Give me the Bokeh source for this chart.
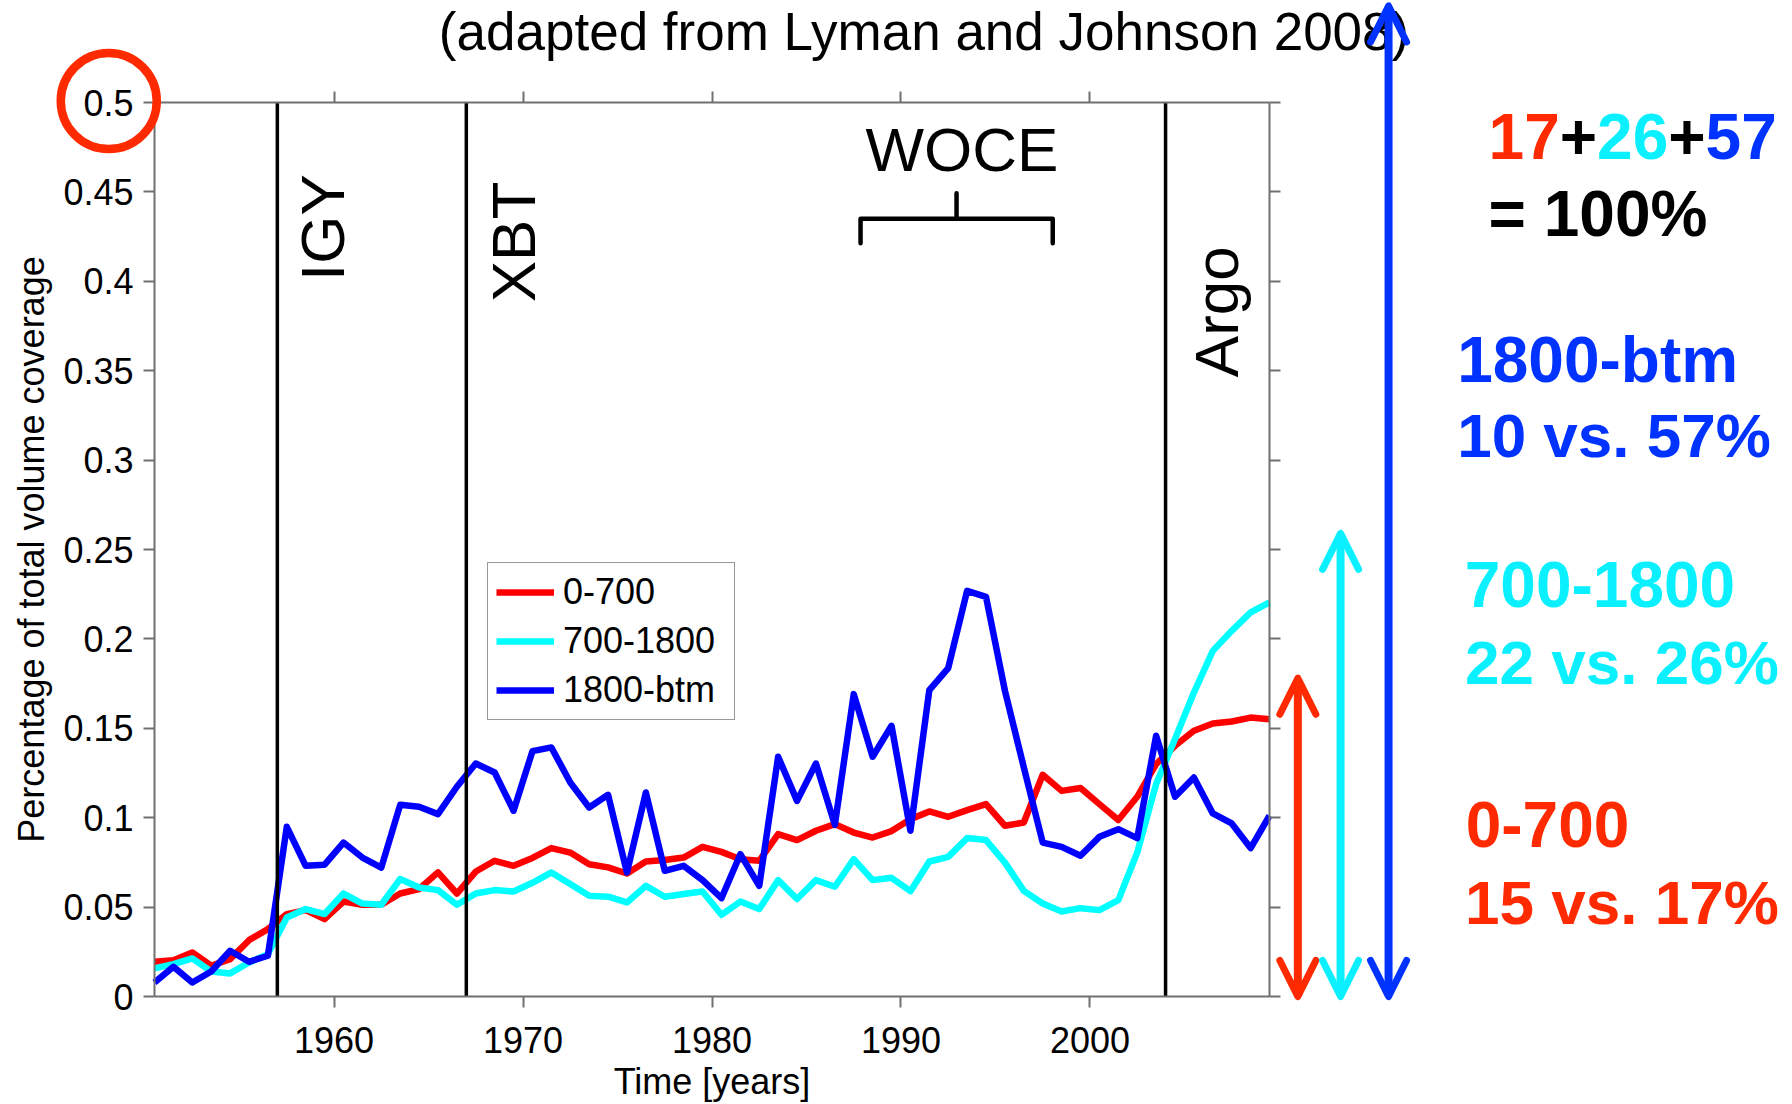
import math
from bokeh.plotting import figure
from bokeh.models import (Range1d, LinearAxis, FixedTicker, Legend, LegendItem, Label,
                          Arrow, OpenHead, BoxAnnotation)
from bokeh.embed import file_html
from bokeh.resources import INLINE

# ---------------- data ----------------
YEARS = [1950.5 + k for k in range(60)]

COVER_0_700 = [0.0194, 0.0203, 0.0246, 0.0172, 0.0209, 0.0315, 0.0377, 0.0461, 0.0483, 0.0433,
               0.0531, 0.0513, 0.0513, 0.0576, 0.0601, 0.0694, 0.0576, 0.0699, 0.0759, 0.0731,
               0.0775, 0.0830, 0.0805, 0.0740, 0.0722, 0.0688, 0.0755, 0.0763, 0.0777, 0.0837,
               0.0809, 0.0768, 0.0759, 0.0908, 0.0875, 0.0927, 0.0964, 0.0917, 0.0889, 0.0925,
               0.0992, 0.1035, 0.1005, 0.1042, 0.1076, 0.0955, 0.0973, 0.1240, 0.1150, 0.1166,
               0.1076, 0.0987, 0.1117, 0.1300, 0.1402, 0.1486, 0.1527, 0.1538, 0.1560, 0.1551]

COVER_700_1800 = [0.0157, 0.0181, 0.0213, 0.0140, 0.0129, 0.0190, 0.0237, 0.0442, 0.0489, 0.0461,
                  0.0576, 0.0520, 0.0513, 0.0657, 0.0610, 0.0595, 0.0513, 0.0576, 0.0595, 0.0587,
                  0.0636, 0.0694, 0.0629, 0.0563, 0.0558, 0.0526, 0.0619, 0.0558, 0.0573, 0.0587,
                  0.0457, 0.0531, 0.0489, 0.0651, 0.0545, 0.0651, 0.0614, 0.0768, 0.0651, 0.0664,
                  0.0589, 0.0755, 0.0781, 0.0886, 0.0875, 0.0749, 0.0591, 0.0520, 0.0475, 0.0494,
                  0.0483, 0.0539, 0.0805, 0.1188, 0.1440, 0.1700, 0.1933, 0.2045, 0.2148, 0.2204]

COVER_1800_BTM = [0.0078, 0.0166, 0.0078, 0.0140, 0.0256, 0.0194, 0.0228, 0.0949, 0.0731, 0.0737,
                  0.0861, 0.0777, 0.0721, 0.1072, 0.1061, 0.1020, 0.1173, 0.1303, 0.1253, 0.1039,
                  0.1372, 0.1393, 0.1197, 0.1057, 0.1128, 0.0694, 0.1141, 0.0703, 0.0731, 0.0651,
                  0.0550, 0.0796, 0.0619, 0.1341, 0.1094, 0.1303, 0.0960, 0.1691, 0.1341, 0.1514,
                  0.0927, 0.1714, 0.1837, 0.2269, 0.2235, 0.1710, 0.1281, 0.0861, 0.0837, 0.0787,
                  0.0893, 0.0936, 0.0886, 0.1458, 0.1117, 0.1225, 0.1024, 0.0968, 0.0830, 0.1011]

SERIES_NAMES = ["0-700", "700-1800", "1800-btm"]
SERIES_COLORS = ["#ff0000", "#00ffff", "#0000ff"]

X_LIMITS = (1950.5, 2009.5)
Y_LIMITS = (0.0, 0.5)
X_TICKS = [1960, 1970, 1980, 1990, 2000]
Y_TICKS = [0, 0.05, 0.1, 0.15, 0.2, 0.25, 0.3, 0.35, 0.4, 0.45, 0.5]
Y_TICK_LABELS = ["0", "0.05", "0.1", "0.15", "0.2", "0.25", "0.3", "0.35", "0.4", "0.45", "0.5"]

EVENT_YEARS = [1957, 1967, 2004]
EVENT_NAMES = ["IGY", "XBT", "Argo"]
EVENT_LABEL_X = [1959.41, 1969.50, 2006.70]
EVENT_LABEL_Y = [0.430, 0.422, 0.383]

WOCE_NAME = "WOCE"
WOCE_LABEL_X, WOCE_LABEL_Y = 1993.23, 0.4737
BRACE_X = [1987.86, 1987.86, 1992.94, 1992.94, 1992.94, 1998.03, 1998.03]
BRACE_Y = [0.4213, 0.4350, 0.4350, 0.4493, 0.4350, 0.4350, 0.4213]

# vertical share arrows (0 -> top) and right-hand annotations
ANNOT_COLORS = ["#ff2a00", "#0af0ff", "#0033ff"]
ARROW_X = [2011.00, 2013.26, 2015.80]
ARROW_TOP = [0.178, 0.259, 0.554]
LAYER_TITLES = ["0-700", "700-1800", "1800-btm"]
LAYER_COMPARE = ["15 vs. 17%", "22 vs. 26%", "10 vs. 57%"]
LAYER_TITLE_XY = [(2019.88, 0.0960), (2019.83, 0.2304), (2019.43, 0.3559)]
LAYER_COMPARE_XY = [(2019.85, 0.0524), (2019.85, 0.1868), (2019.43, 0.3138)]
SUM_PARTS = ["17", "+", "26", "+", "57"]
SUM_COLORS = ["#ff2a00", "#000000", "#0af0ff", "#000000", "#0033ff"]
SUM_XY = (2021.09, 0.4810)
TOTAL_TEXT = "= 100%"
TOTAL_XY = (2021.09, 0.4379)

TITLE_TEXT = "(adapted from Lyman and Johnson 2008)"
TITLE_XY = (1991.22, 0.5395)

CIRCLE_CENTER = (1948.08, 0.5008)
CIRCLE_R = (2.54, 0.02685)

FONT = "Liberation Sans"

# ---------------- layout: canvas and where the axes box sits on it ----------------
W, H = 1792, 1104
BOX_L, BOX_T, BOX_R, BOX_B = 154, 102, 1269, 996   # pixel edges of the axes box
ppx = (BOX_R - BOX_L) / (X_LIMITS[1] - X_LIMITS[0])
ppy = (BOX_B - BOX_T) / (Y_LIMITS[1] - Y_LIMITS[0])
x_range = Range1d(X_LIMITS[0] - BOX_L / ppx, X_LIMITS[1] + (W - BOX_R) / ppx)
y_range = Range1d(Y_LIMITS[0] - (H - BOX_B) / ppy, Y_LIMITS[1] + BOX_T / ppy)

p = figure(width=W, height=H, min_border=0,
           min_border_left=0, min_border_right=0, min_border_top=0, min_border_bottom=0,
           x_range=x_range, y_range=y_range,
           output_backend="svg", toolbar_location=None, title=None)
p.grid.visible = False
p.outline_line_color = None
p.background_fill_color = "white"
p.border_fill_color = "white"

AX_COLOR = "#707070"


def style_axis(ax):
    ax.axis_line_color = AX_COLOR
    ax.axis_line_width = 2
    ax.major_tick_line_color = AX_COLOR
    ax.major_tick_line_width = 2
    ax.major_tick_in = 0
    ax.major_tick_out = 11
    ax.minor_tick_line_color = None
    ax.major_label_text_font = FONT
    ax.major_label_text_color = "black"
    ax.major_label_text_font_size = "36px"
    ax.axis_label_text_font = FONT
    ax.axis_label_text_font_style = "normal"
    ax.axis_label_text_color = "black"
    ax.axis_label_text_font_size = "36px"


xb = p.xaxis[0]
yl = p.yaxis[0]
style_axis(xb)
style_axis(yl)
xb.fixed_location = Y_LIMITS[0]
yl.fixed_location = X_LIMITS[0]
xb.bounds = X_LIMITS
yl.bounds = Y_LIMITS
xb.ticker = FixedTicker(ticks=X_TICKS)
yl.ticker = FixedTicker(ticks=Y_TICKS)
yl.major_label_overrides = {t: s for t, s in zip(Y_TICKS, Y_TICK_LABELS)}
xb.axis_label = "Time [years]"
yl.axis_label = "Percentage of total volume coverage"
xb.major_label_standoff = 19
xb.axis_label_standoff = 5
yl.major_label_standoff = 10
yl.axis_label_standoff = 8

xt = LinearAxis(ticker=FixedTicker(ticks=X_TICKS), fixed_location=Y_LIMITS[1], bounds=X_LIMITS)
yr = LinearAxis(ticker=FixedTicker(ticks=Y_TICKS), fixed_location=X_LIMITS[1], bounds=Y_LIMITS)
style_axis(xt)
style_axis(yr)
xt.major_label_overrides = {t: "" for t in X_TICKS}
yr.major_label_overrides = {t: "" for t in Y_TICKS}
p.add_layout(xt, "above")
p.add_layout(yr, "right")

# data lines
renderers = []
for vals, col in zip([COVER_0_700, COVER_700_1800, COVER_1800_BTM], SERIES_COLORS):
    r = p.line(YEARS, vals, line_color=col, line_width=6.5, line_join="round")
    renderers.append(r)

# event lines
for ey in EVENT_YEARS:
    p.line([ey, ey], list(Y_LIMITS), line_color="black", line_width=3.5)

# WOCE brace
p.line(BRACE_X, BRACE_Y, line_color="black", line_width=4.5, line_join="round", line_cap="round")

# event labels
for name, lx, ly in zip(EVENT_NAMES, EVENT_LABEL_X, EVENT_LABEL_Y):
    p.add_layout(Label(x=lx, y=ly, text=name, angle=math.pi / 2, text_align="center",
                       text_baseline="middle", text_font=FONT, text_font_size="62px",
                       text_color="black"))
p.add_layout(Label(x=WOCE_LABEL_X, y=WOCE_LABEL_Y, text=WOCE_NAME, text_align="center",
                   text_baseline="middle", text_font=FONT, text_font_size="62px",
                   text_color="black"))

# legend (position: offset of its bottom-left corner from the canvas bottom-left)
legend = Legend(items=[LegendItem(label=n, renderers=[r]) for n, r in zip(SERIES_NAMES, renderers)],
                location=(487, 384), orientation="vertical",
                label_text_font=FONT, label_text_font_size="36px", label_text_color="black",
                glyph_width=58, glyph_height=40, label_height=40, label_standoff=9,
                label_width=163, spacing=7, padding=8, margin=0,
                border_line_color="#333333", border_line_width=1.5,
                background_fill_color="white", background_fill_alpha=1.0)
p.add_layout(legend)

# title
p.add_layout(Label(x=TITLE_XY[0], y=TITLE_XY[1], text=TITLE_TEXT, text_align="center",
                   text_baseline="alphabetic", text_font=FONT, text_font_size="53px",
                   text_color="black"))

# circle around the 0.5 label
p.add_layout(BoxAnnotation(left=CIRCLE_CENTER[0] - CIRCLE_R[0], right=CIRCLE_CENTER[0] + CIRCLE_R[0],
                           bottom=CIRCLE_CENTER[1] - CIRCLE_R[1], top=CIRCLE_CENTER[1] + CIRCLE_R[1],
                           fill_alpha=0, line_color="#ff2a00", line_width=8.5, line_alpha=1,
                           border_radius=48))

# share arrows
for ax_, top, col in zip(ARROW_X, ARROW_TOP, ANNOT_COLORS):
    p.add_layout(Arrow(x_start=ax_, y_start=0, x_end=ax_, y_end=top,
                       line_color=col, line_width=8,
                       start=OpenHead(size=36, line_color=col, line_width=7, line_cap="round", line_join="round"),
                       end=OpenHead(size=36, line_color=col, line_width=7, line_cap="round", line_join="round")))

# right-hand texts
for t, (tx, ty), col in zip(LAYER_TITLES, LAYER_TITLE_XY, ANNOT_COLORS):
    p.add_layout(Label(x=tx, y=ty, text=t, text_font=FONT, text_font_style="bold",
                       text_font_size="64px", text_color=col, text_baseline="alphabetic"))
for t, (tx, ty), col in zip(LAYER_COMPARE, LAYER_COMPARE_XY, ANNOT_COLORS):
    p.add_layout(Label(x=tx, y=ty, text=t, text_font=FONT, text_font_style="bold",
                       text_font_size="62px", text_color=col, text_baseline="alphabetic"))

# "17+26+57" in coloured parts (Arial-metric bold advance widths)
ADV = {"1": 0.556, "7": 0.556, "2": 0.556, "6": 0.556, "5": 0.556, "+": 0.584}
off = 0.0
for part, col in zip(SUM_PARTS, SUM_COLORS):
    p.add_layout(Label(x=SUM_XY[0], y=SUM_XY[1], x_offset=off, text=part, text_font=FONT,
                       text_font_style="bold", text_font_size="64px", text_color=col,
                       text_baseline="alphabetic"))
    off += 64 * sum(ADV[c] for c in part)
p.add_layout(Label(x=TOTAL_XY[0], y=TOTAL_XY[1], text=TOTAL_TEXT, text_font=FONT,
                   text_font_style="bold", text_font_size="64px", text_color="black",
                   text_baseline="alphabetic"))

open("out.html", "w").write(file_html(p, INLINE))
